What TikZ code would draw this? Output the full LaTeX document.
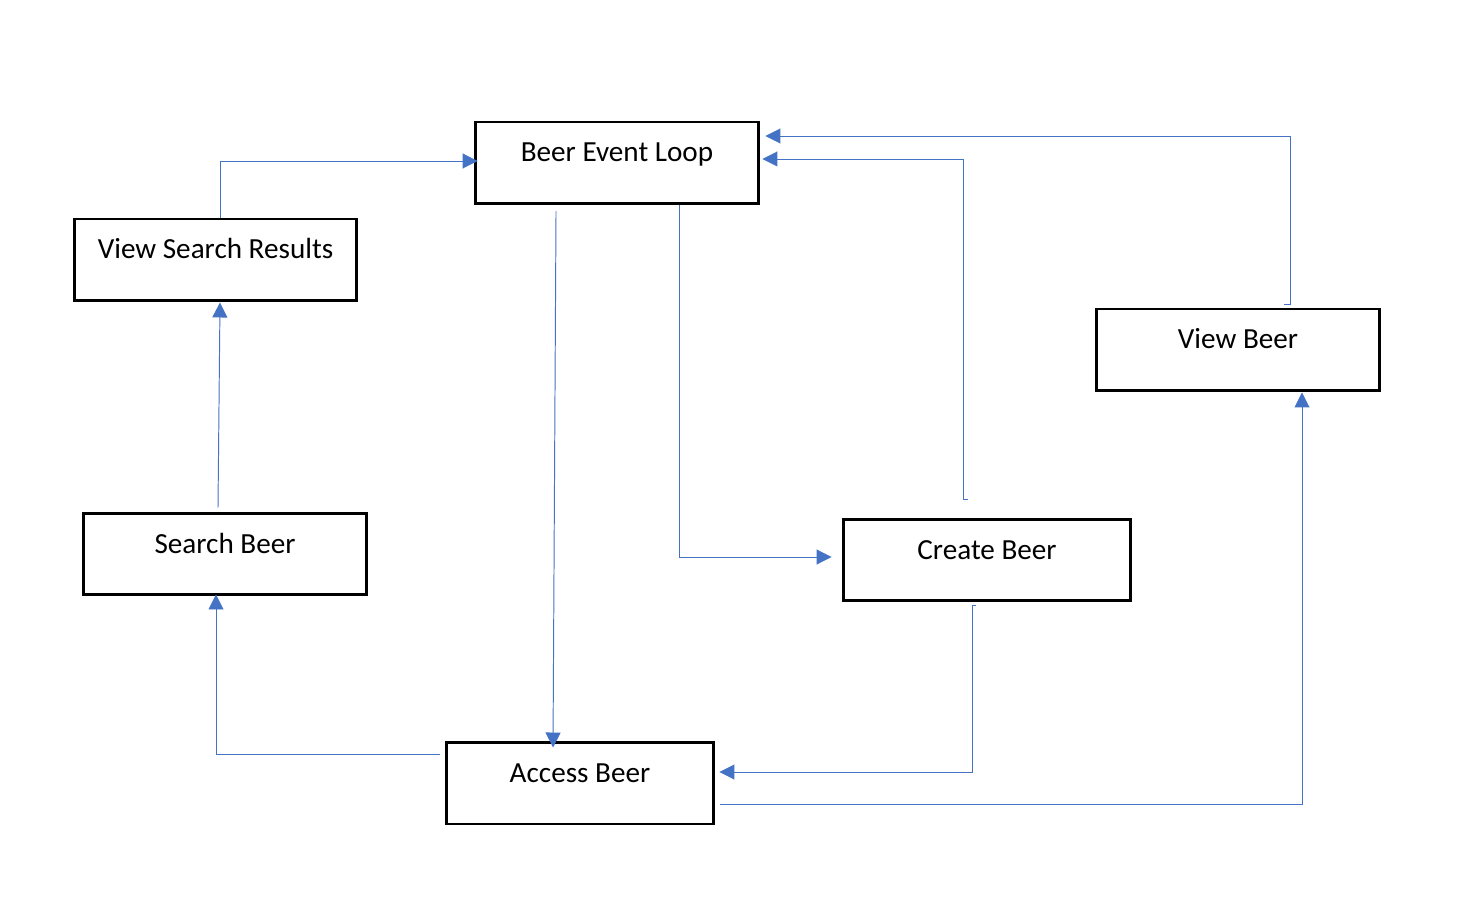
\documentclass[tikz,border=0pt]{standalone}
\usepackage{fontspec}
\setmainfont{Carlito}
\usetikzlibrary{arrows.meta}
\definecolor{connblue}{HTML}{4472C4}
\tikzset{
  box/.style={draw=black, line width=1.7pt, fill=white, inner xsep=0pt, inner ysep=0pt,
    text height=0.8cm, text depth=0.84cm, minimum width=#1, font=\fontsize{16.6}{20}\selectfont},
  conn/.style={draw=connblue, line width=0.55pt, -{Triangle[length=0.3cm,width=0.3cm]}}
}
\begin{document}
\begin{tikzpicture}[x=0.02cm,y=-0.02cm]
\useasboundingbox (0,0) rectangle (1460,908);
\node[box=5.68cm] (loop) at (617,163) {Beer Event Loop};
\node[box=5.66cm] (vsr) at (215.5,260) {View Search Results};
\node[box=5.68cm] (sb) at (225,554) {Search Beer};
\node[box=5.76cm] (cb) at (987,560) {Create Beer};
\node[box=5.68cm] (vb) at (1238,350) {View Beer};
\node[box=5.36cm] (ab) at (580,783) {Access Beer};

\draw[conn] ([xshift=0.09cm]vsr.north) |- ([xshift=0.08cm,yshift=0.04cm]loop.west);
\draw[conn] ([xshift=-0.14cm,yshift=0.08cm]sb.north) -- ([xshift=0.09cm,yshift=0.0cm]vsr.south);
\draw[conn] ([xshift=-0.1cm,yshift=0.58cm]ab.west) -| ([xshift=-0.18cm,yshift=0.04cm]sb.south);
\draw[conn] ([xshift=-1.22cm,yshift=-0.12cm]loop.south) -- ([xshift=-0.54cm,yshift=-0.14cm]ab.north);
\draw[conn] ([xshift=1.24cm]loop.south) |- ([xshift=-0.2cm,yshift=0.06cm]cb.west);
\draw[conn] ([xshift=-0.38cm,yshift=0.36cm]cb.north) -- ++(-0.1cm,0) |- ([xshift=0.04cm,yshift=0.08cm]loop.east);
\draw[conn] ([xshift=0.92cm,yshift=0.06cm]vb.north) -- ++(0.12cm,0) |- ([xshift=0.1cm,yshift=0.54cm]loop.east);
\draw[conn] ([xshift=-0.22cm,yshift=-0.06cm]cb.south) -- ++(-0.08cm,0) |- ([xshift=0.08cm,yshift=0.22cm]ab.east);
\draw[conn] ([xshift=0.1cm,yshift=-0.42cm]ab.east) -| ([xshift=1.28cm,yshift=0.0cm]vb.south);
\end{tikzpicture}
\end{document}
